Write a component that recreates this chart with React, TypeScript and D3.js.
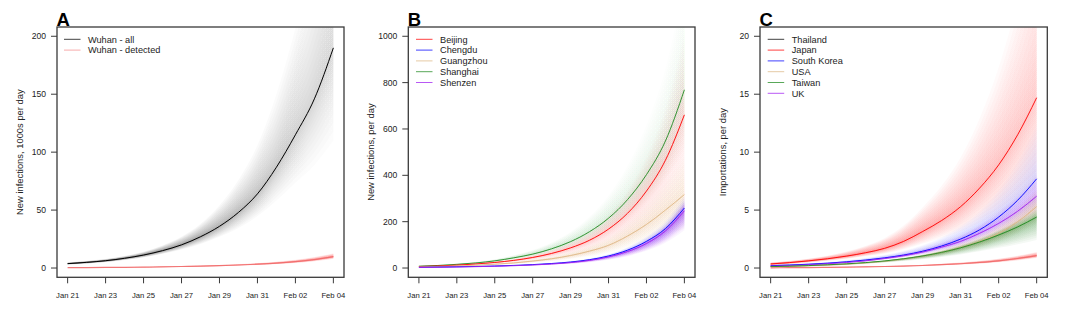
import React from "react";
import * as d3 from "d3";

// ---------- shared x data ----------
const days = [
  "2020-01-21", "2020-01-22", "2020-01-23", "2020-01-24", "2020-01-25",
  "2020-01-26", "2020-01-27", "2020-01-28", "2020-01-29", "2020-01-30",
  "2020-01-31", "2020-02-01", "2020-02-02", "2020-02-03", "2020-02-04",
];
const tickDays = ["2020-01-21", "2020-01-23", "2020-01-25", "2020-01-27", "2020-01-29", "2020-01-31", "2020-02-02", "2020-02-04"];

// ---------- Panel A (1000s per day) ----------
const wuhanAll = [3.8, 4.9, 6.3, 8.4, 11.2, 15, 20, 27, 36, 48, 64, 87, 115, 146, 190];
const wuhanAllHi = [4.7, 6.0, 7.7, 10.3, 14, 19.5, 27, 38, 54, 76, 106, 150, 207, 274, 370];
const wuhanAllLo = [3.0, 3.9, 5.1, 6.9, 9.2, 12.3, 16, 20.8, 27, 34.6, 44.8, 58.3, 73.6, 89, 110];
const wuhanDet = [0.3, 0.4, 0.5, 0.6, 0.8, 1.0, 1.3, 1.6, 2.0, 2.6, 3.3, 4.2, 5.5, 7.3, 9.8];
const wuhanDetHi = [0.4, 0.5, 0.65, 0.8, 1.05, 1.3, 1.7, 2.1, 2.6, 3.4, 4.3, 5.5, 7.2, 9.5, 12.7];
const wuhanDetLo = [0.24, 0.32, 0.4, 0.48, 0.64, 0.8, 1.04, 1.28, 1.6, 2.1, 2.6, 3.4, 4.4, 5.8, 7.8];

// ---------- Panel B (per day) ----------
const beijing = [6.5, 9, 12.6, 17.5, 24, 33, 45.6, 63, 87, 120, 168, 236, 332, 465, 661];
const beijingHi = [7.5, 10.2, 14.2, 19.8, 27.8, 39.3, 55.6, 78.8, 112, 158, 228, 330, 478, 688, 1005];
const beijingLo = [5.5, 7.8, 11.0, 15.1, 19.9, 26.4, 35.1, 46.6, 61.8, 81.6, 109, 146, 196, 260, 350];
const shanghai = [8, 11, 16, 22, 31, 44, 60, 83, 114, 157, 215, 295, 403, 548, 769];
const shanghaiHi = [9.2, 12.6, 18.1, 25.7, 37.5, 55, 77.4, 110, 156, 221, 312, 440, 617, 860, 1238];
const shanghaiLo = [7.0, 9.8, 14.5, 19.8, 27.3, 37.8, 50.4, 68, 91, 122, 163, 218, 290, 384, 523];
const guangzhou = [5, 6.7, 9, 12.2, 16.5, 22, 30, 40, 54, 73, 98, 138, 188, 250, 317];
const guangzhouHi = [5.8, 7.6, 10.1, 13.8, 19.1, 26.2, 36.6, 50, 69.7, 96.4, 133, 193, 271, 370, 482];
const guangzhouLo = [4.3, 5.8, 7.9, 10.6, 13.9, 17.8, 23.4, 30, 38.9, 50.4, 64.7, 86.9, 113, 143, 171];
const chengdu = [3, 4, 5.2, 6.7, 8.7, 11.3, 14.8, 19.5, 26, 36, 52, 77, 115, 170, 259];
const chengduHi = [3.6, 4.7, 5.9, 7.4, 9.5, 12.3, 16.3, 21.6, 29.4, 41, 59.8, 90, 136, 202, 311];
const chengduLo = [2.5, 3.4, 4.5, 6.0, 7.8, 9.9, 12.7, 16.4, 21.3, 28.8, 40.6, 58.5, 85.1, 122, 181];
const shenzen = [2.5, 3.4, 4.5, 5.9, 7.7, 10, 13.2, 17.5, 23.5, 33, 48, 71, 106, 160, 247];
const shenzenHi = [3.0, 3.9, 5.0, 6.4, 8.3, 10.7, 14.3, 19.1, 25.9, 36.6, 53.8, 80.2, 121, 184, 287];
const shenzenLo = [2.0, 2.8, 3.8, 5.0, 6.6, 8.6, 11, 14.2, 18.6, 25.4, 35.5, 51.1, 74.2, 109, 163];

// ---------- Panel C (importations per day) ----------
const japan = [0.35, 0.47, 0.62, 0.8, 1.03, 1.32, 1.7, 2.3, 3.15, 4.1, 5.3, 6.9, 8.9, 11.5, 14.7];
const japanHi = [0.47, 0.62, 0.81, 1.07, 1.42, 1.91, 2.58, 3.66, 5.23, 7.09, 9.54, 12.9, 17.3, 23.1, 30.6];
const japanLo = [0.25, 0.35, 0.48, 0.63, 0.8, 1.03, 1.26, 1.63, 2.11, 2.62, 3.18, 3.93, 4.72, 5.75, 6.91];
const southKorea = [0.2, 0.26, 0.33, 0.42, 0.54, 0.69, 0.88, 1.12, 1.45, 1.9, 2.5, 3.3, 4.4, 5.85, 7.7];
const southKoreaHi = [0.28, 0.34, 0.41, 0.5, 0.65, 0.86, 1.13, 1.48, 1.97, 2.66, 3.6, 4.88, 6.69, 9.13, 12.3];
const southKoreaLo = [0.13, 0.19, 0.26, 0.35, 0.46, 0.6, 0.77, 0.96, 1.22, 1.56, 2.0, 2.61, 3.39, 4.39, 5.62];
const uk = [0.16, 0.21, 0.28, 0.37, 0.48, 0.62, 0.82, 1.06, 1.38, 1.8, 2.3, 3.0, 3.85, 4.9, 6.2];
const ukHi = [0.22, 0.27, 0.33, 0.42, 0.53, 0.69, 0.93, 1.23, 1.63, 2.16, 2.81, 3.72, 4.85, 6.27, 8.06];
const ukLo = [0.1, 0.15, 0.22, 0.3, 0.42, 0.55, 0.71, 0.91, 1.16, 1.48, 1.84, 2.37, 2.96, 3.68, 4.53];
const usa = [0.1, 0.14, 0.19, 0.25, 0.33, 0.44, 0.58, 0.77, 1.02, 1.35, 1.78, 2.3, 3.0, 4.0, 5.3];
const usaHi = [0.15, 0.19, 0.24, 0.3, 0.38, 0.49, 0.66, 0.89, 1.2, 1.62, 2.17, 2.85, 3.78, 5.12, 6.89];
const usaLo = [0.06, 0.09, 0.14, 0.2, 0.27, 0.37, 0.5, 0.65, 0.84, 1.09, 1.41, 1.79, 2.28, 2.96, 3.84];
const taiwan = [0.12, 0.16, 0.21, 0.28, 0.36, 0.47, 0.61, 0.8, 1.04, 1.35, 1.75, 2.25, 2.85, 3.55, 4.4];
const taiwanHi = [0.17, 0.21, 0.26, 0.32, 0.4, 0.51, 0.66, 0.87, 1.14, 1.5, 1.96, 2.54, 3.25, 4.08, 5.1];
const taiwanLo = [0.08, 0.11, 0.16, 0.22, 0.29, 0.38, 0.48, 0.61, 0.76, 0.95, 1.17, 1.44, 1.74, 2.06, 2.42];
const lowImports = [0.02, 0.03, 0.04, 0.06, 0.08, 0.1, 0.13, 0.17, 0.22, 0.29, 0.37, 0.48, 0.62, 0.82, 1.07];
const lowImportsHi = [0.03, 0.04, 0.05, 0.08, 0.1, 0.13, 0.17, 0.22, 0.29, 0.38, 0.48, 0.62, 0.81, 1.07, 1.39];
const lowImportsLo = [0.016, 0.024, 0.032, 0.048, 0.064, 0.08, 0.1, 0.14, 0.18, 0.23, 0.3, 0.38, 0.5, 0.66, 0.86];

const legendA = ["Wuhan - all", "Wuhan - detected"];
const legendB = ["Beijing", "Chengdu", "Guangzhou", "Shanghai", "Shenzen"];
const legendC = ["Thailand", "Japan", "South Korea", "USA", "Taiwan", "UK"];

// ---------- styling ----------
const RED = "#FF0000";
const BLUE = "#0000FF";
const TAN = "#DEB887";
const GREEN = "#228B22";
const PURPLE = "#A020F0";
const SALMON = "#F06A6A";
const FONT = "'Liberation Sans', Arial, Helvetica, sans-serif";

type Series = {
  values: number[];
  lo: number[];
  hi: number[];
  color: string;
  fanColor: string;
  a0: number;
  a1: number;
  width: number;
  opacity: number;
};

type PanelDef = {
  id: string;
  letter: string;
  left: number;
  right: number;
  top: number;
  bottom: number;
  yMax: number;
  yLabel: string;
  yLabelX: number;
  series: Series[];
  legend: { name: string; color: string }[];
  legendLineX: number;
};

const S = (values: number[], lo: number[], hi: number[], color: string, fanColor: string, a0: number, a1: number, width = 1, opacity = 0.9): Series => ({
  values, lo, hi, color, fanColor, a0, a1, width, opacity,
});

const panels: PanelDef[] = [
  {
    id: "A", letter: "A", left: 57, right: 344, top: 27, bottom: 277.3, yMax: 200,
    yLabel: "New infections, 1000s per day", yLabelX: 20,
    series: [
      S(wuhanAll, wuhanAllLo, wuhanAllHi, "#000000", "#000000", 0.085, 0.011, 1, 1),
      S(wuhanDet, wuhanDetLo, wuhanDetHi, SALMON, "#FF3030", 0.07, 0.06, 1.2, 0.9),
    ],
    legend: [{ name: legendA[0], color: "#000000" }, { name: legendA[1], color: "#F59090" }],
    legendLineX: 64,
  },
  {
    id: "B", letter: "B", left: 408.3, right: 695, top: 27, bottom: 277.3, yMax: 1000,
    yLabel: "New infections, per day", yLabelX: 371,
    series: [
      S(shanghai, shanghaiLo, shanghaiHi, GREEN, "#30A040", 0.05, 0.008),
      S(beijing, beijingLo, beijingHi, RED, "#FF4040", 0.06, 0.014),
      S(guangzhou, guangzhouLo, guangzhouHi, TAN, "#E0A060", 0.05, 0.02),
      S(chengdu, chengduLo, chengduHi, BLUE, "#3030FF", 0.06, 0.022),
      S(shenzen, shenzenLo, shenzenHi, PURPLE, "#A020F0", 0.09, 0.045),
    ],
    legend: [
      { name: legendB[0], color: RED },
      { name: legendB[1], color: BLUE },
      { name: legendB[2], color: TAN },
      { name: legendB[3], color: GREEN },
      { name: legendB[4], color: PURPLE },
    ],
    legendLineX: 416,
  },
  {
    id: "C", letter: "C", left: 760, right: 1047.3, top: 27, bottom: 277.3, yMax: 20,
    yLabel: "Importations, per day", yLabelX: 723,
    series: [
      S(japan, japanLo, japanHi, RED, "#FF2020", 0.08, 0.018),
      S(southKorea, southKoreaLo, southKoreaHi, BLUE, "#4040FF", 0.06, 0.017),
      S(uk, ukLo, ukHi, PURPLE, "#A020F0", 0.05, 0.027),
      S(usa, usaLo, usaHi, TAN, "#C8A060", 0.05, 0.03),
      S(taiwan, taiwanLo, taiwanHi, GREEN, "#208020", 0.07, 0.045),
      S(lowImports, lowImportsLo, lowImportsHi, SALMON, "#FF3030", 0.07, 0.06, 1.2, 0.9),
    ],
    legend: [
      { name: legendC[0], color: "#000000" },
      { name: legendC[1], color: RED },
      { name: legendC[2], color: BLUE },
      { name: legendC[3], color: TAN },
      { name: legendC[4], color: GREEN },
      { name: legendC[5], color: PURPLE },
    ],
    legendLineX: 767.7,
  },
];

const parse = d3.utcParse("%Y-%m-%d");
const dates = days.map((d) => parse(d) as Date);
const ticks = tickDays.map((d) => parse(d) as Date);
const fmt = d3.utcFormat("%b %d");
const DAY = 86400000;
const LAYERS = 14;
const STOPS = [0, 0.2, 0.4, 0.6, 0.8, 1];

function Panel({ p }: { p: PanelDef }) {
  const x = d3
    .scaleUtc()
    .domain([new Date(dates[0].getTime() - 0.56 * DAY), new Date(dates[dates.length - 1].getTime() + 0.56 * DAY)])
    .range([p.left, p.right]);
  const y = d3.scaleLinear().domain([-0.04 * p.yMax, 1.04 * p.yMax]).range([p.bottom, p.top]);
  const yTicks = y.ticks(5);
  const clipId = `clip-${p.id}`;
  const xStart = x(dates[0]);
  const xEnd = x(dates[dates.length - 1]);

  const line = d3
    .line<number>()
    .x((_, i) => x(dates[i]))
    .y((v) => y(v))
    .curve(d3.curveMonotoneX);

  const fanLayers = (s: Series, gid: string) => {
    const out: React.ReactNode[] = [];
    for (let k = 1; k <= LAYERS; k++) {
      const f = Math.pow(k / LAYERS, 1.4);
      const area = d3
        .area<number>()
        .x((_, i) => x(dates[i]))
        .y0((_, i) => y(s.values[i] + (s.lo[i] - s.values[i]) * f))
        .y1((_, i) => y(s.values[i] + (s.hi[i] - s.values[i]) * f))
        .curve(d3.curveMonotoneX);
      out.push(<path key={k} d={area(s.values) || ""} fill={`url(#${gid})`} stroke="none" />);
    }
    return out;
  };

  const legendY0 = 39.3;
  const legendDy = 10.8;

  return (
    <g>
      <defs>
        <clipPath id={clipId}>
          <rect x={p.left} y={p.top} width={p.right - p.left} height={p.bottom - p.top} />
        </clipPath>
        {p.series.map((s, i) => (
          <linearGradient key={`g${i}`} id={`grad-${p.id}-${i}`} gradientUnits="userSpaceOnUse" x1={xStart} x2={xEnd} y1={0} y2={0}>
            {STOPS.map((o) => (
              <stop key={o} offset={o} stopColor={s.fanColor} stopOpacity={s.a0 * Math.pow(s.a1 / s.a0, o)} />
            ))}
          </linearGradient>
        ))}
      </defs>
      <g clipPath={`url(#${clipId})`}>
        {p.series.map((s, i) => (
          <g key={`fan${i}`}>{fanLayers(s, `grad-${p.id}-${i}`)}</g>
        ))}
        {p.series.map((s, i) => (
          <path key={`ln${i}`} d={line(s.values) || ""} fill="none" stroke={s.color} strokeWidth={s.width} strokeOpacity={s.opacity} />
        ))}
      </g>
      {/* box */}
      <rect x={p.left} y={p.top} width={p.right - p.left} height={p.bottom - p.top} fill="none" stroke="#3a3a3a" strokeWidth={1.3} />
      {/* x axis */}
      {ticks.map((t, i) => (
        <g key={`xt${i}`}>
          <line x1={x(t)} x2={x(t)} y1={p.bottom} y2={p.bottom + 6} stroke="#3a3a3a" strokeWidth={1} />
          <text x={x(t)} y={298} textAnchor="middle" fontSize={7.7} fill="#222" fontFamily={FONT}>
            {fmt(t)}
          </text>
        </g>
      ))}
      {/* y axis */}
      {yTicks.map((t, i) => (
        <g key={`yt${i}`}>
          <line x1={p.left - 6} x2={p.left} y1={y(t)} y2={y(t)} stroke="#3a3a3a" strokeWidth={1} />
          <text x={p.left - 11} y={y(t)} dy="0.35em" textAnchor="end" fontSize={8.6} fill="#222" fontFamily={FONT}>
            {t}
          </text>
        </g>
      ))}
      <text
        transform={`translate(${p.yLabelX},${(p.top + p.bottom) / 2}) rotate(-90)`}
        textAnchor="middle"
        dy="0.35em"
        fontSize={9.4}
        fill="#222"
        fontFamily={FONT}
      >
        {p.yLabel}
      </text>
      <text x={p.left - 0.5} y={25.6} fontSize={18.5} fontWeight="bold" fill="#000" fontFamily={FONT}>
        {p.letter}
      </text>
      {/* legend */}
      {p.legend.map((l, i) => (
        <g key={`lg${i}`}>
          <line
            x1={p.legendLineX}
            x2={p.legendLineX + 16.5}
            y1={legendY0 + i * legendDy}
            y2={legendY0 + i * legendDy}
            stroke={l.color}
            strokeOpacity={0.75}
            strokeWidth={1}
          />
          <text x={p.legendLineX + 24} y={legendY0 + i * legendDy} dy="0.35em" fontSize={9.2} fill="#222" fontFamily={FONT}>
            {l.name}
          </text>
        </g>
      ))}
    </g>
  );
}

export default function App() {
  return (
    <svg
      width={1068}
      height={323}
      viewBox="0 0 1068 323"
      style={{ position: "absolute", left: 0, top: 0, display: "block", background: "#fff" }}
    >
      <rect x={0} y={0} width={1068} height={323} fill="#fff" />
      {panels.map((p) => (
        <Panel key={p.id} p={p} />
      ))}
    </svg>
  );
}
